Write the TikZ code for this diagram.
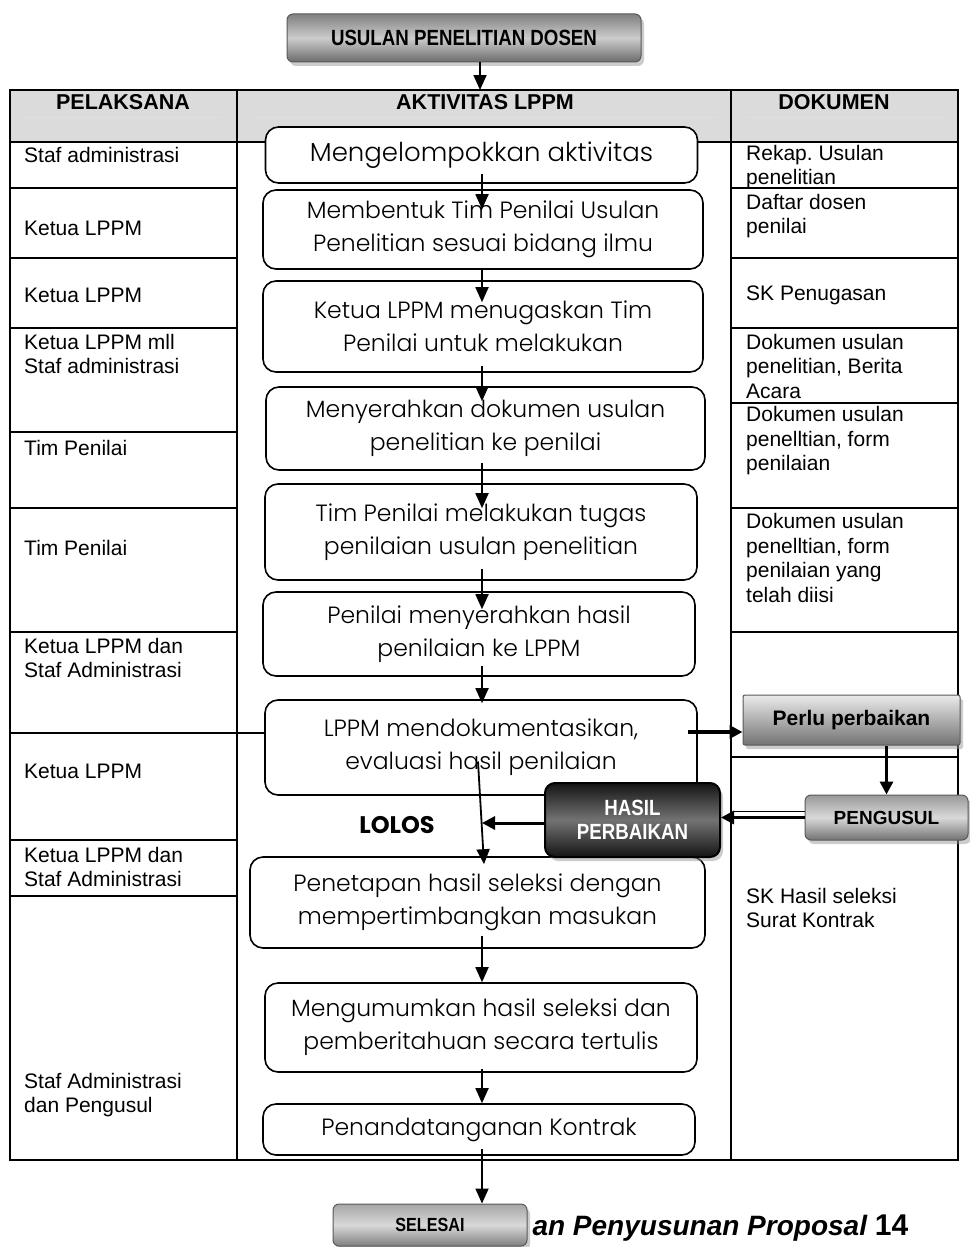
\documentclass[tikz,border=0pt]{standalone}
\usepackage{fontspec}
\setmainfont{Liberation Sans}
\IfFontExistsTF{Poppins Light}{\newfontfamily\boxfont{Poppins Light}}{\newfontfamily\boxfont{Poppins}}
\newfontfamily\lolosfont{Poppins}
\newfontfamily\narrowfont[FakeStretch=0.85]{Liberation Sans}
\usetikzlibrary{arrows.meta,shadows}

\tikzset{
  cell/.style={anchor=west,align=left,inner sep=0pt,font=\fontsize{21}{24.5}\selectfont},
  headtext/.style={inner sep=0pt,font=\bfseries\fontsize{21.5}{24}\selectfont},
  actbox/.style={draw,line width=1.6pt,rounded corners=13pt,fill=white,align=center,
    inner sep=0pt,minimum width=432pt,font=\boxfont\fontsize{23.5}{33}\selectfont},
  tabline/.style={line width=2.6pt},
  flow/.style={line width=1.8pt,-{Triangle[length=15pt,width=13pt]}},
  bigflow/.style={line width=3.5pt,-{Triangle[length=13pt,width=13pt]}},
  greybox/.style={draw=black!65,line width=1pt,align=center,inner sep=0pt,
    drop shadow={shadow xshift=3pt,shadow yshift=-4pt,fill=black!40}},
}

\begin{document}
\begin{tikzpicture}[x=1pt,y=-1pt]
	\useasboundingbox (0,0) rectangle (969,1247);
	% table
	\fill[black!14] (10,90) rectangle (958,142);
	\draw[white!75!gray,line width=0.8pt] (22,117) -- (222,117) (252,117) -- (718,117) (746,117) -- (945,117);
	\draw[tabline] (10,90) rectangle (958,1160);
	\draw[tabline] (237,90) -- (237,1160) (731,90) -- (731,1160) (10,142) -- (958,142);
	\draw[tabline] (10,188) -- (237,188) (10,258) -- (237,258) (10,328) -- (237,328) (10,432) -- (237,432)
		(10,508) -- (237,508) (10,632) -- (237,632) (10,733) -- (265,733) (10,840) -- (237,840) (10,896) -- (237,896);
	\draw[tabline] (731,188) -- (958,188) (731,258) -- (958,258) (731,328) -- (958,328) (731,403) -- (958,403)
		(731,508) -- (958,508) (731,632) -- (958,632) (731,757) -- (958,757);

	\node[headtext] (hpel) at (123,102) {PELAKSANA};
	\node[headtext] (hakt) at (485,102) {AKTIVITAS LPPM};
	\node[headtext] (hdok) at (834,102) {DOKUMEN};

	% pelaksana
	\node[cell] (p1) at (24,155) {Staf administrasi};
	\node[cell] (p2) at (24,228) {Ketua LPPM};
	\node[cell] (p3) at (24,295) {Ketua LPPM};
	\node[cell] (p4) at (24,354) {Ketua LPPM mll\\Staf administrasi};
	\node[cell] (p5) at (24,448) {Tim Penilai};
	\node[cell] (p6) at (24,548) {Tim Penilai};
	\node[cell] (p7) at (24,658) {Ketua LPPM dan\\Staf Administrasi};
	\node[cell] (p8) at (24,771) {Ketua LPPM};
	\node[cell] (p9) at (24,867) {Ketua LPPM dan\\Staf Administrasi};
	\node[cell] (p10) at (24,1095) {Staf Administrasi\\dan Pengusul};

	% dokumen
	\node[cell] (d1) at (746,167) {Rekap.\ Usulan\\penelitian};
	\node[cell] (d2) at (746,216) {Daftar dosen\\penilai};
	\node[cell] (d3) at (746,295) {SK Penugasan};
	\node[cell] (d4) at (746,366) {Dokumen usulan\\penelitian, Berita\\Acara};
	\node[cell] (d5) at (746,441) {Dokumen usulan\\penelltian, form\\penilaian};
	\node[cell] (d6) at (746,558) {Dokumen usulan\\penelltian, form\\penilaian yang\\telah diisi};
	\node[cell] (d7) at (746,908) {SK Hasil seleksi\\Surat Kontrak};

	% aktivitas
	\node[actbox,minimum height=56pt,font=\boxfont\fontsize{26}{33}\selectfont] (a1) at (481.5,155) {Mengelompokkan aktivitas};
	\node[actbox,minimum width=440pt,minimum height=79pt] (a2) at (483,229.5) {Membentuk Tim Penilai Usulan\\Penelitian sesuai bidang ilmu};
	\node[actbox,minimum width=440pt,minimum height=91pt] (a3) at (483,326.5) {Ketua LPPM menugaskan Tim\\Penilai untuk melakukan};
	\node[actbox,minimum width=439pt,minimum height=83pt] (a4) at (485.5,428.5) {Menyerahkan dokumen usulan\\penelitian ke penilai};
	\node[actbox,minimum height=96pt] (a5) at (481,532) {Tim Penilai melakukan tugas\\penilaian usulan penelitian};
	\node[actbox,minimum height=84pt] (a6) at (479,634) {Penilai menyerahkan hasil\\penilaian ke LPPM};
	\node[actbox,minimum height=95pt] (a7) at (481,747.5) {LPPM mendokumentasikan,\\evaluasi hasil penilaian};
	\node[actbox,minimum width=455pt,minimum height=91pt] (a8) at (477.5,902.5) {Penetapan hasil seleksi dengan\\mempertimbangkan masukan};
	\node[actbox,minimum height=89pt] (a9) at (481,1027.5) {Mengumumkan hasil seleksi dan\\pemberitahuan secara tertulis};
	\node[actbox,minimum height=51pt] (a10) at (479,1129.5) {Penandatanganan Kontrak};

	% kotak abu-abu
	\node[greybox,rounded corners=6pt,minimum width=354pt,minimum height=48pt,
		top color=black!50,bottom color=black!58,middle color=black!20,
		font=\narrowfont\bfseries\fontsize{22}{24}\selectfont] (usulan) at (464,38) {USULAN PENELITIAN DOSEN};
	\node[greybox,rounded corners=2pt,minimum width=217pt,minimum height=50pt,
		top color=black!8,bottom color=black!55,
		font=\bfseries\fontsize{21}{24}\selectfont] (perlu) at (851.5,720) {Perlu perbaikan};
	\node[greybox,rounded corners=6pt,minimum width=163pt,minimum height=45pt,
		top color=black!40,bottom color=black!55,middle color=black!15,
		font=\bfseries\fontsize{19}{22}\selectfont] (pengusul) at (886.5,817.5) {PENGUSUL};
	\node[greybox,draw=black,line width=2pt,rounded corners=10pt,minimum width=175pt,minimum height=74pt,
		top color=black!92,bottom color=black!92,middle color=black!55,text=white,
		font=\narrowfont\bfseries\fontsize{22}{24}\selectfont] (hasil) at (632.5,820) {HASIL\\PERBAIKAN};
	\node[font=\lolosfont\bfseries\fontsize{24}{26}\selectfont] (lolos) at (397,825) {LOLOS};
	\node[anchor=west,font=\bfseries\itshape\fontsize{28}{30}\selectfont] (footer) at (529,1228)
		{an Penyusunan Proposal \upshape\fontsize{30}{30}\selectfont 14};
	\node[greybox,rounded corners=6pt,minimum width=194pt,minimum height=42pt,
		top color=black!35,bottom color=black!50,middle color=black!15,
		font=\narrowfont\bfseries\fontsize{19}{22}\selectfont] (selesai) at (430,1225) {SELESAI};

	% panah
	\coordinate (mid) at (482,0);
	\coordinate (tabtop) at (480,90);
	\draw[flow] ([xshift=16pt]usulan.south) -- (tabtop);
	\draw[flow] ([yshift=10pt]mid |- a1.south) -- ([yshift=-20pt]mid |- a2.north);
	\draw[flow] (mid |- a2.south) -- ([yshift=-22pt]mid |- a3.north);
	\draw[flow] ([yshift=7pt]mid |- a3.south) -- ([yshift=-15pt]mid |- a4.north);
	\draw[flow] ([yshift=8pt]mid |- a4.south) -- ([yshift=-25pt]mid |- a5.north);
	\draw[flow] ([yshift=12pt]mid |- a5.south) -- ([yshift=-18pt]mid |- a6.north);
	\draw[flow] ([yshift=11pt]mid |- a6.south) -- ([yshift=-4pt]mid |- a7.north);
	\draw[flow] ([xshift=-4pt,yshift=-14pt]mid |- a7.center) -- ([xshift=2pt,yshift=-8pt]mid |- a8.north);
	\draw[flow] ([yshift=13pt]mid |- a8.south) -- (mid |- a9.north);
	\draw[flow] ([yshift=4pt]mid |- a9.south) -- (mid |- a10.north);
	\draw[flow] ([yshift=7pt]mid |- a10.south) -- (mid |- selesai.north);

	\coordinate (perlin) at ([yshift=-12pt]perlu.west);
	\draw[bigflow] ([xshift=-10pt]a7.east |- perlin) -- (perlin);
	\draw[bigflow,line width=3pt] (pengusul.north |- perlu.south) -- (pengusul.north);
	\draw[bigflow,line width=3pt] (pengusul.west) -- (pengusul.west -| hasil.east);
	\draw[line width=1.2pt,shorten >=13pt] ([yshift=6pt]pengusul.west) -- ([yshift=6pt]pengusul.west -| hasil.east);
	\coordinate (lolosin) at (482,823);
	\draw[bigflow,line width=3pt] (hasil.west |- lolosin) -- (lolosin);
\end{tikzpicture}
\end{document}
